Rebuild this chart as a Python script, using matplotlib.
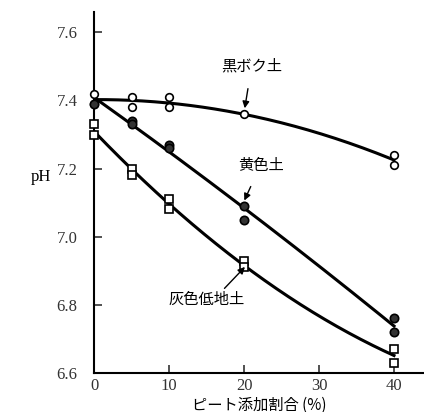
import numpy as np
import matplotlib
matplotlib.use("Agg")
import matplotlib.pyplot as plt

plt.rcParams['font.family'] = ['Liberation Serif', 'Noto Sans CJK JP', 'DejaVu Sans']

# data
x_kuroboku = [0, 0, 5, 5, 10, 10, 20, 40, 40]
y_kuroboku = [7.42, 7.39, 7.41, 7.38, 7.41, 7.38, 7.36, 7.24, 7.21]

x_ki = [0, 5, 5, 10, 10, 20, 20, 40, 40]
y_ki = [7.39, 7.34, 7.33, 7.27, 7.26, 7.09, 7.05, 6.76, 6.72]

x_kai = [0, 0, 5, 5, 10, 10, 20, 20, 40, 40]
y_kai = [7.33, 7.30, 7.20, 7.18, 7.11, 7.08, 6.93, 6.91, 6.67, 6.63]

yticks = [6.6, 6.8, 7.0, 7.2, 7.4, 7.6]
xticks = [0, 10, 20, 30, 40]

fig = plt.figure(figsize=(4.24, 4.12), dpi=100)
ax = fig.add_axes([0.222, 0.095, 0.778, 0.876])

xs = np.linspace(0, 40, 200)
for xd, yd in [(x_kuroboku, y_kuroboku), (x_ki, y_ki), (x_kai, y_kai)]:
    c = np.polyfit(xd, yd, 2)
    ax.plot(xs, np.polyval(c, xs), color='black', lw=2.2, zorder=2)

ax.plot(x_kuroboku, y_kuroboku, 'o', mfc='white', mec='black', ms=5.5, mew=1.2, zorder=3, clip_on=False)
ax.plot(x_ki, y_ki, 'o', mfc='#333333', mec='black', ms=6, mew=1.2, zorder=3, clip_on=False)
ax.plot(x_kai, y_kai, 's', mfc='white', mec='black', ms=5.5, mew=1.2, zorder=3, clip_on=False)

ax.set_xlim(0, 44)
ax.set_ylim(6.6, 7.66)
ax.set_xticks(xticks)
ax.set_yticks(yticks)
ax.set_yticklabels([f"{v:.1f}" for v in yticks])
ax.tick_params(direction='in', length=6, width=1.2, labelsize=12, colors='#333333')
ax.tick_params(axis='y', pad=12)
ax.spines['top'].set_visible(False)
ax.spines['right'].set_visible(False)
ax.spines['left'].set_linewidth(1.5)
ax.spines['bottom'].set_linewidth(1.5)

jp = ['Noto Sans CJK JP', 'DejaVu Sans']
arrow = dict(arrowstyle='-|>', color='black', lw=1, mutation_scale=10)
ax.annotate('黒ボク土', xy=(20, 7.365), xytext=(21.0, 7.50), fontsize=11, family=jp,
            ha='center', va='center',
            arrowprops=dict(arrow, shrinkA=8, shrinkB=3))
ax.annotate('黄色土', xy=(19.8, 7.095), xytext=(22.2, 7.21), fontsize=11, family=jp,
            ha='center', va='center',
            arrowprops=dict(arrow, shrinkA=8, shrinkB=3))
ax.annotate('灰色低地土', xy=(20.5, 6.92), xytext=(15.0, 6.815), fontsize=11, family=jp,
            ha='center', va='center',
            arrowprops=dict(arrow, shrinkA=30, shrinkB=3, relpos=(0.7, 1.0)))

ax.set_xlabel('ピート添加割合 (%)', fontsize=11, family=jp, labelpad=2)
ax.set_ylabel('pH', fontsize=12, rotation=0, labelpad=14)
ax.yaxis.set_label_coords(-0.16, 0.52)

fig.savefig('out.png', dpi=100)
